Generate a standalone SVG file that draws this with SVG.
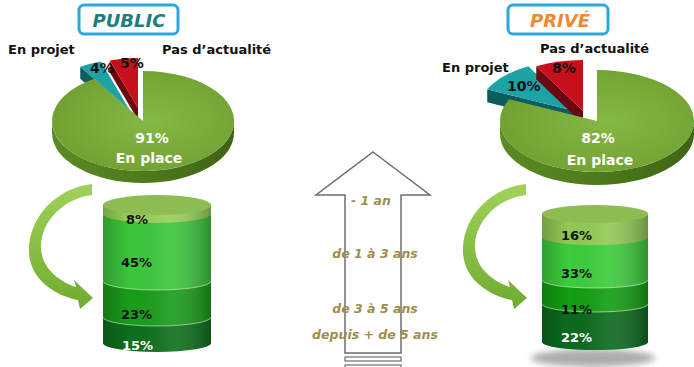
<svg xmlns="http://www.w3.org/2000/svg" width="694" height="367" viewBox="0 0 694 367">
<style>
text{font-family:"DejaVu Sans","Verdana",sans-serif;font-weight:bold}
.lbl{font-size:13px;fill:#111}
.pct{font-size:14px;fill:#111}
.wpct{font-size:14px;fill:#fff}
.cyl{font-size:13px;fill:#111}
.cylw{font-size:13px;fill:#fff}
.tl{font-size:12.5px;font-style:italic;fill:#a08c4e}
.box{fill:#fff;stroke:#2aa7df;stroke-width:3}
.sep{fill:none;stroke:#d8f5c8;stroke-opacity:.6;stroke-width:1}
</style>
<defs>
<radialGradient id="gtop" cx="0.55" cy="0.5" r="0.6">
<stop offset="0" stop-color="#86b846"/><stop offset="1" stop-color="#6e9f30"/>
</radialGradient>
<linearGradient id="gside" x1="0" y1="0" x2="1" y2="0">
<stop offset="0" stop-color="#5d8a25"/><stop offset="0.5" stop-color="#4e7a1c"/><stop offset="1" stop-color="#3f6414"/>
</linearGradient>
<linearGradient id="shade" x1="0" y1="0" x2="1" y2="0">
<stop offset="0" stop-color="#000" stop-opacity="0.22"/>
<stop offset="0.25" stop-color="#000" stop-opacity="0"/>
<stop offset="0.6" stop-color="#fff" stop-opacity="0.08"/>
<stop offset="1" stop-color="#000" stop-opacity="0.28"/>
</linearGradient>
<linearGradient id="arr" x1="0" y1="0" x2="0" y2="1">
<stop offset="0" stop-color="#a2d15a"/><stop offset="1" stop-color="#6eac2e"/>
</linearGradient>
<filter id="blur" x="-20%" y="-50%" width="140%" height="200%"><feGaussianBlur stdDeviation="3"/></filter>
<path id="carrow" d="M 92 184 L 92 195 C 64 198 40 222 41 248 C 42 268 58 281 76 287 L 74 280 L 93 298 L 80 309 L 78 300 C 56 296 30 280 29 252 C 28 218 56 188 92 184 Z"/>
</defs>

<!-- PUBLIC title -->
<g id="title-public">
<rect class="box" x="79" y="5" width="99" height="29" rx="5"/>
<text x="129" y="27" text-anchor="middle" font-size="18" font-style="italic" fill="#1b7f80">PUBLIC</text>
</g>

<!-- PUBLIC pie -->
<g id="pie-public">
<path d="M 129 109 L 80.24 66.8 L 80.24 78.8 L 129 121 Z" fill="#0d5c5e"/>
<path d="M 129 109 L 80.24 66.8 A 91 50 0 0 1 100.88 61.45 Z" fill="#1ba3a6"/>
<path d="M 138 108 L 109.88 60.45 L 109.88 72.45 L 138 120 Z" fill="#6a0a0e"/>
<path d="M 138 108 L 109.88 60.45 A 91 50 0 0 1 138 58 Z" fill="#c8101c"/>
<path d="M 234 121 L 234 133 A 91 50 0 0 1 52 133 L 52 121 A 91 50 0 0 0 234 121 Z" fill="url(#gside)"/>
<path d="M 143 121 L 143 71 A 91 50 0 1 1 94.24 78.8 Z" fill="url(#gtop)"/>
<text class="lbl" x="8" y="54">En projet</text>
<text class="lbl" x="162" y="54">Pas d’actualité</text>
<text class="pct" x="90" y="73">4%</text>
<text class="pct" x="120" y="68">5%</text>
<text class="wpct" x="152" y="143" text-anchor="middle">91%</text>
<text class="wpct" x="149" y="163" text-anchor="middle">En place</text>
</g>

<!-- PUBLIC cylinder -->
<g id="cyl-public">
<path d="M 103 316 L 103 343 A 54 9 0 0 0 211 343 L 211 316 Z" fill="#0e6f1c"/>
<path d="M 103 281 L 103 317 A 54 9 0 0 0 211 317 L 211 281 Z" fill="#1a9c1a"/>
<path d="M 103 214 L 103 281 A 54 9 0 0 0 211 281 L 211 214 Z" fill="#3cc63c"/>
<path d="M 103 205 L 103 214 A 54 9 0 0 0 211 214 L 211 205 Z" fill="#98d05a"/>
<path d="M 103 205 L 103 343 A 54 9 0 0 0 211 343 L 211 205 Z" fill="url(#shade)"/>
<path class="sep" d="M 103 281 A 54 9 0 0 0 211 281"/>
<path class="sep" d="M 103 317 A 54 9 0 0 0 211 317"/>
<ellipse cx="157" cy="205" rx="54" ry="10" fill="#8dbd52"/>
<text class="cyl" x="126" y="224">8%</text>
<text class="cyl" x="121" y="267">45%</text>
<text class="cyl" x="121" y="319">23%</text>
<text class="cylw" x="122" y="350">15%</text>
</g>

<!-- PRIVE title -->
<g id="title-prive">
<rect class="box" x="508" y="5" width="100" height="29" rx="5"/>
<text x="560" y="27" text-anchor="middle" font-size="18" font-style="italic" fill="#f08a32">PRIVÉ</text>
</g>

<!-- PRIVE pie -->
<g id="pie-prive">
<path d="M 575 111 L 487.23 89.28 L 487.23 102.28 L 575 124 Z" fill="#0d5c5e"/>
<path d="M 575 111 L 487.23 89.28 A 97 51 0 0 1 528.27 66.31 Z" fill="#1ba3a6"/>
<path d="M 583 111 L 536.27 66.31 L 536.27 79.31 L 583 124 Z" fill="#6a0a0e"/>
<path d="M 583 111 L 536.27 66.31 A 97 51 0 0 1 583 60 Z" fill="#c8101c"/>
<path d="M 694 121 L 694 134 A 97 51 0 0 1 500 134 L 500 121 A 97 51 0 0 0 694 121 Z" fill="url(#gside)"/>
<path d="M 597 121 L 597 70 A 97 51 0 1 1 509.23 99.28 Z" fill="url(#gtop)"/>
<text class="lbl" x="442" y="72">En projet</text>
<text class="lbl" x="540" y="53">Pas d’actualité</text>
<text class="pct" x="507" y="91">10%</text>
<text class="pct" x="552" y="73">8%</text>
<text class="wpct" x="598" y="143" text-anchor="middle">82%</text>
<text class="wpct" x="600" y="165" text-anchor="middle">En place</text>
</g>

<!-- PRIVE cylinder -->
<g id="cyl-prive">
<ellipse cx="593" cy="358" rx="62" ry="9" fill="#8a8a8a" opacity="0.7" filter="url(#blur)"/>
<path d="M 542 304 L 542 342 A 53 8 0 0 0 648 342 L 648 304 Z" fill="#0c6a1e"/>
<path d="M 542 280 L 542 304 A 53 8 0 0 0 648 304 L 648 280 Z" fill="#139e13"/>
<path d="M 542 237 L 542 280 A 53 8 0 0 0 648 280 L 648 237 Z" fill="#3dcc3d"/>
<path d="M 542 214 L 542 237 A 53 8 0 0 0 648 237 L 648 214 Z" fill="#93c954"/>
<path d="M 542 214 L 542 342 A 53 8 0 0 0 648 342 L 648 214 Z" fill="url(#shade)"/>
<path class="sep" d="M 542 280 A 53 8 0 0 0 648 280"/>
<path class="sep" d="M 542 304 A 53 8 0 0 0 648 304"/>
<ellipse cx="595" cy="214" rx="53" ry="9" fill="#8dbd52"/>
<text class="cyl" x="561" y="240">16%</text>
<text class="cyl" x="561" y="278">33%</text>
<text class="cyl" x="561" y="314">11%</text>
<text class="cylw" x="561" y="342">22%</text>
</g>

<!-- connectors: curved arrows -->
<g id="connectors">
<use href="#carrow" fill="url(#arr)"/>
<use href="#carrow" fill="url(#arr)" transform="translate(434,0)"/>
</g>

<!-- time arrow -->
<g id="time-arrow">
<path d="M 373 152 L 430 195 L 401 195 L 401 353 L 345 353 L 345 195 L 316 195 Z" fill="#fff" stroke="#6d6d6d" stroke-width="1.5"/>
<rect x="345" y="357" width="56" height="4" fill="#fff" stroke="#6d6d6d" stroke-width="1.2"/>
<rect x="345" y="365" width="56" height="4" fill="#fff" stroke="#6d6d6d" stroke-width="1.2"/>
<text class="tl" x="371" y="205" text-anchor="middle">- 1 an</text>
<text class="tl" x="375" y="258" text-anchor="middle">de 1 à 3 ans</text>
<text class="tl" x="375" y="313" text-anchor="middle">de 3 à 5 ans</text>
<text class="tl" x="375" y="339" text-anchor="middle">depuis + de 5 ans</text>
</g>
</svg>
